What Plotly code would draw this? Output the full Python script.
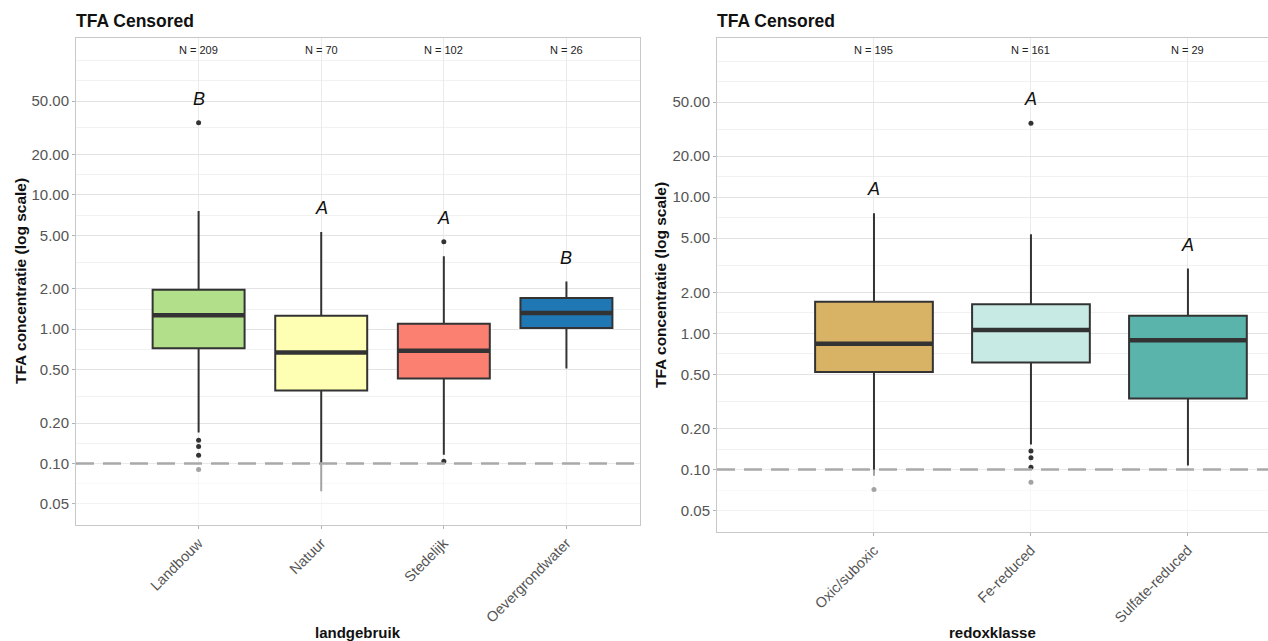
import math
import plotly.graph_objects as go

# ---------------- data ----------------
land_cats = ["Landbouw", "Natuur", "Stedelijk", "Oevergrondwater"]
land_n = [209, 70, 102, 26]
land_q1 = [0.72, 0.35, 0.43, 1.02]
land_med = [1.27, 0.67, 0.69, 1.32]
land_q3 = [1.97, 1.26, 1.10, 1.71]
land_lo = [0.17, 0.062, 0.116, 0.51]
land_hi = [7.6, 5.3, 3.49, 2.27]
land_out = [[34.5, 0.149, 0.134, 0.115, 0.090], [], [4.48, 0.104], []]
land_letters = ["B", "A", "A", "B"]
land_colors = ["#b2df8a", "#ffffb3", "#fb8072", "#1f78b4"]

redox_cats = ["Oxic/suboxic", "Fe-reduced", "Sulfate-reduced"]
redox_n = [195, 161, 29]
redox_q1 = [0.52, 0.61, 0.333]
redox_med = [0.84, 1.06, 0.89]
redox_q3 = [1.71, 1.64, 1.35]
redox_lo = [0.090, 0.153, 0.107]
redox_hi = [7.63, 5.34, 2.99]
redox_out = [[0.0715], [34.9, 0.137, 0.122, 0.104, 0.0806], []]
redox_letters = ["A", "A", "A"]
redox_colors = ["#d8b365", "#c7eae5", "#5ab4ac"]

y_ticks = [0.05, 0.1, 0.2, 0.5, 1, 2, 5, 10, 20, 50]
y_ticktext = ["0.05", "0.10", "0.20", "0.50", "1.00", "2.00", "5.00", "10.00", "20.00", "50.00"]
y_minor = [0.025 * math.sqrt(2), 0.05 * math.sqrt(2), 0.1 * math.sqrt(2), math.sqrt(0.1),
           math.sqrt(0.5), math.sqrt(2), math.sqrt(10), math.sqrt(50), math.sqrt(200),
           math.sqrt(1000), 50 * math.sqrt(2), 100]
censor_limit = 0.1

FONT = "Liberation Sans, Arial, sans-serif"
DARK = "#333333"
W, H = 1268, 641

fig = go.Figure()


def add_panel(cats, n, q1, med, q3, lo, hi, outs, letters, colors, xa, ya):
    xref = "x" if xa == "xaxis" else "x2"
    yref = "y" if ya == "yaxis" else "y2"
    for i, c in enumerate(cats):
        pos = i + 1
        fig.add_trace(go.Box(
            x=[pos], q1=[q1[i]], median=[med[i]], q3=[q3[i]],
            lowerfence=[lo[i]], upperfence=[hi[i]],
            width=0.75, fillcolor=colors[i],
            line=dict(color=DARK, width=2), whiskerwidth=0,
            boxpoints=False, showlegend=False, hoverinfo="skip",
            xaxis=xref, yaxis=yref))
        fig.add_trace(go.Scatter(
            x=[pos - 0.375, pos + 0.375], y=[med[i], med[i]], mode="lines",
            line=dict(color=DARK, width=4.5), showlegend=False,
            hoverinfo="skip", xaxis=xref, yaxis=yref))
        if outs[i]:
            fig.add_trace(go.Scatter(
                x=[pos] * len(outs[i]), y=outs[i], mode="markers",
                marker=dict(color=DARK, size=5), showlegend=False,
                hoverinfo="skip", xaxis=xref, yaxis=yref))
        top = max([hi[i]] + outs[i])
        fig.add_annotation(x=pos, y=math.log10(top * 1.5), xref=xref, yref=yref,
                           text="<i>%s</i>" % letters[i], showarrow=False,
                           yanchor="middle",
                           font=dict(family=FONT, size=18, color="#111111"))
        fig.add_annotation(x=pos, y=0.975, xref=xref, yref=yref + " domain",
                           text="N = %d" % n[i], showarrow=False, yanchor="middle",
                           font=dict(family=FONT, size=11, color="#222222"))
    # censored region overlay + dashed limit line
    fig.add_shape(type="rect", xref=xref + " domain", x0=0, x1=1, yref=yref,
                  y0=0.001, y1=censor_limit, fillcolor="rgba(255,255,255,0.55)",
                  line=dict(width=0), layer="above")
    fig.add_shape(type="line", xref=xref + " domain", x0=0, x1=1, yref=yref,
                  y0=censor_limit, y1=censor_limit,
                  line=dict(color="#a9a9a9", width=2.5, dash="18px,9px"), layer="above")


add_panel(land_cats, land_n, land_q1, land_med, land_q3, land_lo, land_hi,
          land_out, land_letters, land_colors, "xaxis", "yaxis")
add_panel(redox_cats, redox_n, redox_q1, redox_med, redox_q3, redox_lo, redox_hi,
          redox_out, redox_letters, redox_colors, "xaxis2", "yaxis2")

yrange = [math.log10(0.0348), math.log10(147.6)]


def yaxis_cfg(dom, anchor):
    return dict(type="log", range=yrange, domain=dom, anchor=anchor,
                tickmode="array", tickvals=y_ticks, ticktext=y_ticktext,
                tickfont=dict(family=FONT, size=15, color="#555555"),
                ticks="outside", ticklen=3, tickcolor="#b3b3b3",
                showgrid=True, gridcolor="#e3e3e3", gridwidth=1,
                minor=dict(tickmode="array", tickvals=y_minor, showgrid=True,
                           gridcolor="#f1f1f1", gridwidth=1, ticklen=0),
                showline=True, mirror=True, linecolor="#c8c8c8", linewidth=1,
                zeroline=False, automargin=False)


def xaxis_cfg(dom, anchor, cats, rng):
    return dict(domain=dom, anchor=anchor, range=rng,
                tickmode="array", tickvals=list(range(1, len(cats) + 1)), ticktext=cats,
                tickangle=-45, tickfont=dict(family=FONT, size=14.5, color="#555555"),
                ticks="outside", ticklen=3, tickcolor="#b3b3b3",
                showgrid=True, gridcolor="#ebebeb", gridwidth=1,
                showline=True, mirror=True, linecolor="#c8c8c8", linewidth=1,
                zeroline=False, automargin=False)


fig.update_layout(
    width=W, height=H,
    margin=dict(l=0, r=0, t=0, b=0),
    paper_bgcolor="white", plot_bgcolor="white",
    boxmode="overlay", showlegend=False,
    xaxis=xaxis_cfg([76 / W, 640 / W], "y", land_cats, [0, 4.6]),
    yaxis=yaxis_cfg([1 - 525 / H, 1 - 38 / H], "x"),
    xaxis2=xaxis_cfg([717 / W, 1.0], "y2", redox_cats, [0, 3.51]),
    yaxis2=yaxis_cfg([1 - 532 / H, 1 - 38 / H], "x2"),
)

# titles and axis titles
for xp, txt in [(74, "TFA Censored"), (715, "TFA Censored")]:
    fig.add_annotation(x=xp / W, y=1 - 21 / H, xref="paper", yref="paper",
                       text="<b>%s</b>" % txt, showarrow=False, xanchor="left",
                       yanchor="middle", font=dict(family=FONT, size=17.5, color="#111111"))
for xp, yp in [(20, 281), (660, 285)]:
    fig.add_annotation(x=xp / W, y=1 - yp / H, xref="paper", yref="paper",
                       text="<b>TFA concentratie (log scale)</b>", showarrow=False,
                       textangle=-90, xanchor="center", yanchor="middle",
                       font=dict(family=FONT, size=15.5, color="#111111"))
for xp, txt in [(358, "landgebruik"), (992, "redoxklasse")]:
    fig.add_annotation(x=xp / W, y=1 - 632 / H, xref="paper", yref="paper",
                       text="<b>%s</b>" % txt, showarrow=False, xanchor="center",
                       yanchor="middle", font=dict(family=FONT, size=15, color="#111111"))

fig.write_html("out.html", config={"displayModeBar": False},
               post_script="document.body.style.margin='0';document.body.style.overflow='hidden';")
